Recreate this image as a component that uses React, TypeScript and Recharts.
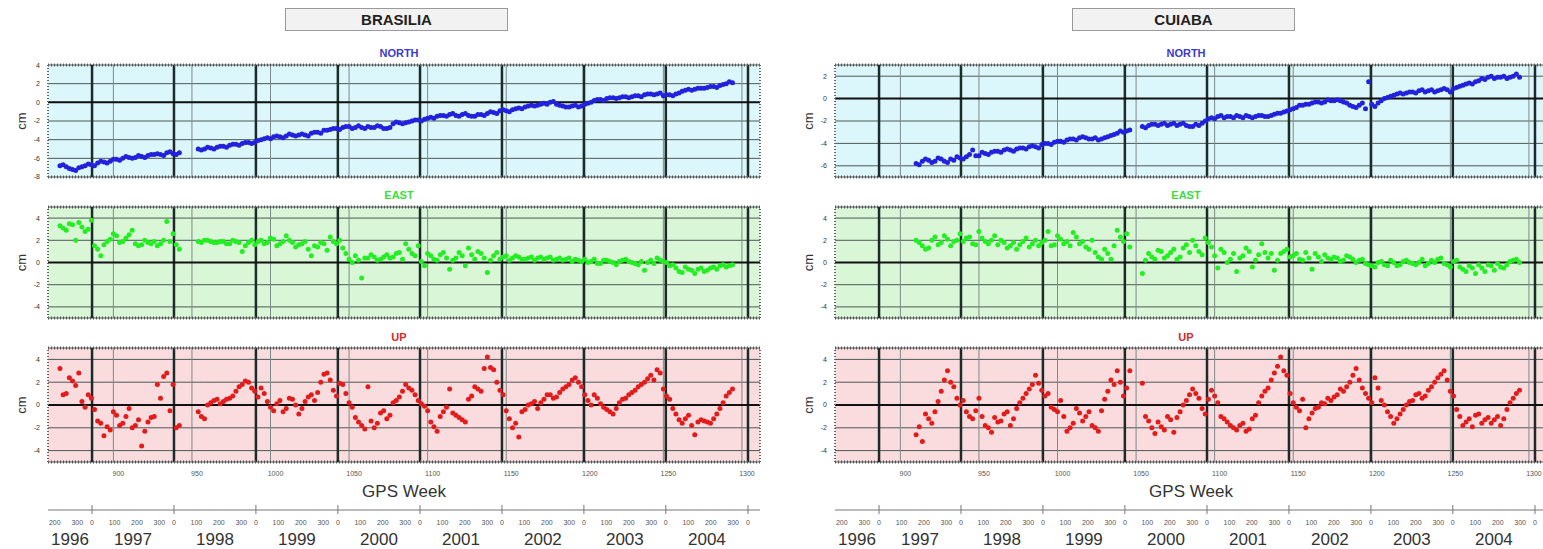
import React from 'react';
import { ScatterChart, Scatter, XAxis, YAxis, CartesianGrid, ReferenceLine } from 'recharts';

// GPS week range shown on every panel
const WEEK_DOMAIN: [number, number] = [858.4, 1311.5];
const gpsTicks = [900, 950, 1000, 1050, 1100, 1150, 1200, 1250, 1300];

// 1 January of each year, in GPS weeks
const yearStarts = [834.14, 886.43, 938.57, 990.71, 1042.86, 1095.14, 1147.29, 1199.43, 1251.57, 1303.86];
const yearNames = ['1996', '1997', '1998', '1999', '2000', '2001', '2002', '2003', '2004'];
const dayMarks = [100, 200, 300];

const northTicksBrasilia = [-8, -6, -4, -2, 0, 2, 4];
const northTicksCuiaba = [-6, -4, -2, 0, 2];
const enuTicks = [-4, -2, 0, 2, 4];

// ---- BRASILIA ----
const brasiliaWeeks = [
  866, 870, 874, 878, 882, 886, 890, 894, 898, 902, 906, 910, 914, 918, 922, 926, 930, 934, 938, 942,
  954, 958, 962, 966, 970, 974, 978, 982, 986, 990,
  994, 998, 1002, 1006, 1010, 1014, 1018, 1022, 1026, 1030,
  1034, 1038, 1042, 1046, 1050, 1054, 1058, 1062, 1066, 1070,
  1074, 1078, 1082, 1086, 1090, 1094, 1098, 1102, 1106, 1110,
  1114, 1118, 1122, 1126, 1130, 1134, 1138, 1142, 1146, 1150,
  1154, 1158, 1162, 1166, 1170, 1174, 1178, 1182, 1186, 1190,
  1194, 1198, 1202, 1206, 1210, 1214, 1218, 1222, 1226, 1230,
  1234, 1238, 1242, 1246, 1250, 1254, 1258, 1262, 1266, 1270,
  1274, 1278, 1282, 1286, 1290, 1294,
];
const brasiliaNorth = [
  -6.8, -6.9, -7.2, -7.0, -6.8, -6.7, -6.5, -6.4, -6.3, -6.1, -6.0, -5.9, -5.9, -5.8, -5.7, -5.6, -5.6, -5.4, -5.5, -5.4,
  -5.0, -5.0, -4.9, -4.8, -4.7, -4.6, -4.5, -4.4, -4.3, -4.3,
  -4.0, -3.8, -3.7, -3.7, -3.6, -3.5, -3.5, -3.5, -3.3, -3.2,
  -3.0, -2.9, -2.8, -2.7, -2.6, -2.7, -2.7, -2.6, -2.7, -2.6,
  -2.8, -2.3, -2.2, -2.2, -2.0, -1.9, -1.8, -1.6, -1.5, -1.4,
  -1.3, -1.4, -1.3, -1.4, -1.5, -1.3, -1.2, -1.1, -0.9, -0.9,
  -0.8, -0.6, -0.5, -0.3, -0.3, -0.1, 0.0, -0.2, -0.4, -0.5,
  -0.3, -0.4, -0.1, 0.2, 0.3, 0.4, 0.5, 0.5, 0.6, 0.6,
  0.7, 0.8, 0.9, 0.9, 0.7, 0.8, 0.9, 1.2, 1.4, 1.4,
  1.5, 1.6, 1.7, 1.8, 2.0, 2.1,
];
const brasiliaEast = [
  3.3, 2.9, 3.4, 3.6, 2.8, 3.8, 1.2, 1.6, 2.1, 2.4, 1.9, 2.5, 1.7, 1.6, 1.8, 1.9, 1.7, 3.7, 2.6, 1.2,
  1.9, 2.0, 1.9, 1.8, 1.9, 1.7, 1.9, 1.0, 1.8, 1.6,
  2.0, 1.8, 2.1, 1.7, 2.4, 1.8, 1.6, 1.9, 0.6, 1.4,
  1.7, 2.3, 1.7, 1.3, 0.3, 0.6, -1.4, 0.4, 0.5, 0.3,
  0.7, 0.5, 0.9, 1.7, 0.8, 1.5, -0.3, 0.6, 0.2, 0.9,
  -0.6, 0.4, 0.6, 1.3, 0.3, 0.8, -0.9, 0.6, 0.3, 0.6,
  0.4, 0.5, 0.3, 0.5, 0.4, 0.3, 0.5, 0.3, 0.2, 0.4,
  0.3, 0.1, 0.0, 0.3, -0.1, 0.2, 0.0, 0.1, 0.3, 0.0,
  -0.2, -0.7, 0.2, 0.4, 0.1, -0.3, -0.5, -0.9, -0.6, -1.0,
  -0.5, -0.7, -0.4, -0.3, -0.4, -0.2,
];
const brasiliaUp = [
  3.2, 1.0, 2.1, 2.8, -0.2, 0.6, -1.4, -2.7, -2.2, -0.9, -1.6, -0.3, -1.8, -3.6, -1.5, -1.0, 0.6, 2.8, 1.8, -1.8,
  -0.6, -1.2, 0.2, 0.5, 0.3, 0.6, 1.2, 1.8, 2.0, 1.2,
  1.5, 0.3, -0.5, 0.4, -0.3, 0.5, -0.8, 0.3, 0.9, 1.1,
  2.7, 2.2, 0.8, 1.8, 0.2, -1.1, -1.8, 1.6, -2.0, -0.7,
  -1.2, 0.2, 0.7, 1.8, 1.3, 0.4, -0.1, -1.5, -2.3, -0.6,
  1.4, -0.9, -1.3, 0.5, 1.6, 1.2, 4.2, 3.1, 1.3, -0.5,
  -2.0, -2.8, -0.4, 0.1, -0.3, 0.5, 0.9, 0.7, 1.4, 1.8,
  2.4, 1.6, 0.4, 0.9, 0.1, -0.4, -0.8, 0.2, 0.6, 1.1,
  1.6, 2.0, 2.6, 3.1, 1.4, 0.5, -0.8, -1.6, -0.9, -2.6,
  -1.3, -1.5, -1.2, -0.3, 0.8, 1.4,
];
// the weeks in between
const brasiliaWeeksB = [
  868, 872, 876, 880, 884, 888, 892, 896, 900, 904, 908, 912, 916, 920, 924, 928, 932, 936, 940,
  956, 960, 964, 968, 972, 976, 980, 984, 988, 992,
  996, 1000, 1004, 1008, 1012, 1016, 1020, 1024, 1028, 1032,
  1036, 1040, 1044, 1048, 1052, 1056, 1060, 1064, 1068, 1072,
  1076, 1080, 1084, 1088, 1092, 1096, 1100, 1104, 1108, 1112,
  1116, 1120, 1124, 1128, 1132, 1136, 1140, 1144, 1148, 1152,
  1156, 1160, 1164, 1168, 1172, 1176, 1180, 1184, 1188, 1192,
  1196, 1200, 1204, 1208, 1212, 1216, 1220, 1224, 1228, 1232,
  1236, 1240, 1244, 1248, 1252, 1256, 1260, 1264, 1268, 1272,
  1276, 1280, 1284, 1288, 1292,
];
const brasiliaNorthB = [
  -6.7, -7.1, -7.3, -6.9, -6.6, -6.8, -6.3, -6.5, -6.1, -6.2, -5.8, -6.0, -5.7, -5.9, -5.6, -5.5, -5.7, -5.3, -5.6,
  -5.1, -4.8, -5.0, -4.7, -4.8, -4.5, -4.6, -4.3, -4.4, -4.1,
  -3.9, -3.9, -3.6, -3.8, -3.4, -3.6, -3.4, -3.6, -3.2, -3.3,
  -3.0, -2.8, -2.9, -2.6, -2.8, -2.5, -2.8, -2.7, -2.5, -2.8,
  -2.7, -2.1, -2.3, -2.1, -1.9, -2.0, -1.7, -1.7, -1.4, -1.5,
  -1.2, -1.5, -1.2, -1.5, -1.3, -1.4, -1.0, -1.2, -0.8, -1.0,
  -0.7, -0.7, -0.4, -0.4, -0.2, -0.2, 0.1, -0.3, -0.5, -0.4,
  -0.5, -0.2, 0.0, 0.3, 0.2, 0.5, 0.4, 0.6, 0.5, 0.7,
  0.6, 0.9, 0.8, 1.0, 0.8, 0.7, 1.0, 1.3, 1.3, 1.5,
  1.5, 1.7, 1.6, 1.9, 2.2,
];
const brasiliaEastB = [
  3.1, 3.5, 2.0, 3.2, 3.0, 1.5, 0.6, 1.9, 2.6, 1.8, 2.2, 2.9, 1.5, 2.0, 1.7, 1.5, 2.0, 1.9, 1.6,
  1.8, 2.0, 1.8, 1.9, 1.7, 2.0, 1.8, 1.5, 2.0, 1.9,
  1.7, 2.2, 1.5, 1.9, 2.0, 1.4, 1.7, 1.2, 1.5, 1.8,
  1.1, 1.9, 2.0, 0.8, 0.0, 0.2, 0.4, 0.7, 0.2, 0.5,
  0.4, 0.8, 0.3, 1.2, 0.6, 0.1, 0.8, 0.3, 0.7, 0.4,
  0.2, 0.9, -0.3, 0.7, 1.0, 0.4, 0.2, 0.9, 0.5, 0.2,
  0.6, 0.3, 0.4, 0.2, 0.5, 0.4, 0.2, 0.4, 0.3, 0.1,
  0.2, 0.3, 0.1, -0.1, 0.2, 0.1, -0.2, 0.2, 0.1, -0.1,
  0.1, 0.0, -0.1, 0.2, 0.0, -0.2, -0.8, -0.4, -0.7, -0.6,
  -0.8, -0.5, -0.6, -0.2, -0.3,
];
const brasiliaUpB = [
  0.9, 2.4, 1.7, 0.3, 0.9, -0.4, -1.6, -1.9, -0.6, -1.8, -1.0, -2.0, -1.3, -2.3, -1.1, 1.8, 2.5, -0.5, -2.0,
  -1.0, 0.0, 0.4, 0.1, 0.5, 0.8, 1.6, 2.1, 1.5, 0.7,
  1.0, -0.2, 0.1, -0.6, 0.6, 0.0, -0.3, 0.7, 0.4, 2.0,
  2.8, 1.3, 1.9, 1.0, -0.2, -1.5, -2.1, -1.4, -1.6, -0.5,
  -0.9, 0.4, 1.2, 1.5, 0.9, 0.1, -0.5, -1.9, -1.0, -0.2,
  -0.7, -1.1, -1.5, 0.8, 1.4, 3.2, 3.3, 2.0, 0.9, -1.2,
  -1.6, -0.6, 0.0, 0.3, 0.2, 0.9, 0.6, 1.1, 1.6, 2.2,
  2.0, 0.9, 0.0, 0.6, -0.2, -0.6, -0.3, 0.5, 0.9, 1.3,
  1.8, 2.3, 2.2, 2.8, 0.8, -0.3, -1.3, -1.2, -1.8, -1.5,
  -1.4, -1.6, -0.8, 0.2, 1.1,
];

// ---- CUIABA ----
const cuiabaWeeks = [
  910, 914, 918, 922, 926, 930, 934, 938, 942, 946,
  950, 954, 958, 962, 966, 970, 974, 978, 982, 986,
  990, 994, 998, 1002, 1006, 1010, 1014, 1018, 1022, 1026,
  1030, 1034, 1038, 1042, 1046,
  1054, 1058, 1062, 1066, 1070, 1074, 1078, 1082, 1086, 1090,
  1094, 1098, 1102, 1106, 1110, 1114, 1118, 1122, 1126, 1130,
  1134, 1138, 1142, 1146, 1150, 1154, 1158, 1162, 1166, 1170,
  1174, 1178, 1182, 1186, 1190, 1194, 1198, 1202, 1206, 1210,
  1214, 1218, 1222, 1226, 1230, 1234, 1238, 1242, 1246, 1250,
  1254, 1258, 1262, 1266, 1270, 1274, 1278, 1282, 1286, 1290,
  1294,
];
const cuiabaNorth = [
  -5.8, -5.6, -5.5, -5.6, -5.4, -5.7, -5.5, -5.3, -5.2, -4.6,
  -5.1, -4.9, -4.8, -4.7, -4.6, -4.6, -4.5, -4.4, -4.3, -4.3,
  -4.1, -4.0, -3.9, -3.8, -3.7, -3.6, -3.5, -3.5, -3.6, -3.7,
  -3.5, -3.3, -3.1, -3.0, -2.8,
  -2.5, -2.4, -2.3, -2.3, -2.4, -2.2, -2.3, -2.4, -2.5, -2.4,
  -2.0, -1.7, -1.6, -1.7, -1.6, -1.5, -1.7, -1.6, -1.6, -1.5,
  -1.6, -1.4, -1.3, -1.1, -0.9, -0.6, -0.5, -0.4, -0.3, -0.3,
  -0.2, -0.1, -0.3, -0.6, -0.8, -0.4, 1.5, -0.7, -0.2, 0.1,
  0.3, 0.5, 0.5, 0.6, 0.7, 0.6, 0.8, 0.7, 0.9, 0.6,
  1.0, 1.2, 1.4, 1.5, 1.8, 1.9, 1.8, 1.9, 1.8, 2.0,
  1.9,
];
const cuiabaEast = [
  2.0, 1.5, 1.3, 2.3, 1.8, 2.1, 1.9, 2.6, 2.2, 1.7,
  2.8, 1.9, 2.0, 1.6, 1.8, 1.5, 1.2, 1.9, 1.4, 2.0,
  1.8, 2.8, 1.6, 2.1, 1.9, 2.7, 1.7, 1.4, 2.0, 0.5,
  1.2, 0.3, 2.9, 1.9, 1.4,
  -1.0, 0.8, 0.3, 1.0, 0.6, 1.2, 0.5, 1.6, 2.0, 1.0,
  2.2, 1.4, -0.5, 0.9, 0.3, -0.8, 0.6, 1.0, 0.2, 1.7,
  0.4, -0.7, 0.8, 1.2, 0.6, 0.3, 0.9, -0.6, 0.5, 0.7,
  0.3, 0.4, 0.2, 0.5, 0.0, 0.3, -0.2, -0.4, 0.1, -0.3,
  0.0, -0.2, 0.2, -0.1, 0.0, -0.3, 0.2, 0.3, -0.1, -0.4,
  0.2, -0.6, -0.3, -1.0, -0.5, -0.2, -0.7, -0.4, -0.2, 0.2,
  0.0,
];
const cuiabaUp = [
  -2.6, -3.2, -1.2, -0.6, 1.2, 3.0, 1.6, 0.0, -0.6, -1.2,
  0.6, -1.8, -2.4, -1.5, -0.8, -1.8, -0.3, 0.6, 1.4, 2.6,
  1.3, 1.0, -0.4, 0.4, -2.3, -1.6, -0.7, -1.0, -1.8, -2.3,
  0.5, 2.2, 3.0, 0.8, 3.0,
  1.9, -1.4, -2.5, -1.9, -1.0, -2.4, -0.6, 0.4, 1.4, 0.6,
  -0.8, 1.3, 0.2, -1.2, -1.8, -2.2, -1.6, -2.1, -0.9, 0.8,
  1.5, 2.8, 4.2, 2.6, 0.2, -0.5, -2.0, -0.7, -0.2, 0.1,
  0.4, 0.9, 1.2, 2.0, 3.2, 1.5, 0.6, 2.4, 0.4, -0.6,
  -1.6, -0.8, 0.0, 0.4, 1.0, 0.8, 1.6, 2.4, 3.0, 1.2,
  -0.4, -1.8, -1.2, -0.9, -1.6, -1.1, -1.3, -1.8, -0.4, 0.6,
  1.3,
];
const cuiabaWeeksB = [
  912, 916, 920, 924, 928, 932, 936, 940, 944, 948,
  952, 956, 960, 964, 968, 972, 976, 980, 984, 988,
  992, 996, 1000, 1004, 1008, 1012, 1016, 1020, 1024, 1028,
  1032, 1036, 1040, 1044,
  1056, 1060, 1064, 1068, 1072, 1076, 1080, 1084, 1088, 1092,
  1096, 1100, 1104, 1108, 1112, 1116, 1120, 1124, 1128, 1132,
  1136, 1140, 1144, 1148, 1152, 1156, 1160, 1164, 1168, 1172,
  1176, 1180, 1184, 1188, 1192, 1196, 1200, 1204, 1208, 1212,
  1216, 1220, 1224, 1228, 1232, 1236, 1240, 1244, 1248, 1252,
  1256, 1260, 1264, 1268, 1272, 1276, 1280, 1284, 1288, 1292,
];
const cuiabaNorthB = [
  -5.9, -5.4, -5.7, -5.3, -5.6, -5.4, -5.2, -5.4, -5.0, -5.1,
  -4.8, -5.0, -4.7, -4.8, -4.5, -4.7, -4.4, -4.5, -4.2, -4.4,
  -4.0, -4.1, -3.8, -3.9, -3.6, -3.7, -3.4, -3.6, -3.5, -3.6,
  -3.4, -3.2, -2.9, -2.9,
  -2.6, -2.3, -2.4, -2.2, -2.3, -2.4, -2.2, -2.5, -2.3, -2.2,
  -1.8, -1.8, -1.5, -1.6, -1.7, -1.6, -1.5, -1.7, -1.5, -1.6,
  -1.5, -1.3, -1.2, -1.0, -0.8, -0.6, -0.5, -0.3, -0.4, -0.1,
  -0.2, -0.2, -0.4, -0.7, -0.6, -0.9, -0.5, -0.4, 0.0, 0.2,
  0.4, 0.4, 0.6, 0.5, 0.8, 0.7, 0.6, 0.8, 0.8, 0.9,
  1.1, 1.3, 1.3, 1.6, 1.7, 2.0, 1.9, 2.0, 1.9, 2.2,
];
const cuiabaEastB = [
  1.8, 1.2, 2.0, 1.6, 2.4, 1.5, 2.0, 1.9, 2.3, 1.6,
  2.2, 1.7, 2.4, 2.0, 1.3, 1.8, 1.6, 2.2, 1.7, 1.5,
  2.0, 1.5, 2.4, 1.7, 1.5, 2.3, 1.9, 1.2, 0.9, 0.3,
  0.8, 1.5, 2.3, 2.6,
  0.2, 0.5, 1.1, 0.4, 0.9, 0.3, 1.3, 0.9, 1.5, 0.7,
  1.8, 0.6, 1.2, 0.0, 0.8, 0.4, 1.3, -0.4, 0.7, 0.9,
  0.8, 0.2, 1.0, 0.5, 0.8, 0.2, 0.4, 0.8, 0.1, 0.4,
  0.5, 0.1, 0.6, 0.3, 0.2, -0.1, -0.3, 0.0, -0.2, 0.2,
  -0.3, 0.1, 0.0, -0.2, 0.3, -0.1, 0.0, 0.4, -0.2, 0.1,
  -0.4, -0.8, -0.5, -0.2, -0.8, -0.3, -0.1, -0.5, 0.1, 0.3,
];
const cuiabaUpB = [
  -1.9, -0.8, -1.6, 0.3, 2.2, 2.0, 0.6, 0.4, -1.0, -0.5,
  -1.0, -2.0, -1.1, -1.4, -0.6, -1.2, 0.2, 1.0, 1.8, 1.9,
  0.8, -0.2, -0.6, -1.0, -2.0, -0.3, -1.4, -0.6, -2.0, -0.5,
  1.2, 1.8, 2.0, 1.5,
  -1.0, -2.0, -1.5, -2.2, -1.3, -1.1, 0.0, 0.9, 1.0, -0.3,
  0.5, 0.8, -1.0, -1.5, -2.0, -1.8, -2.3, -1.2, 0.2, 1.2,
  2.2, 3.4, 3.0, 1.0, -0.2, 0.5, -1.2, -0.3, 0.2, 0.6,
  0.7, 1.4, 1.6, 2.6, 2.2, 1.0, 0.2, 1.5, 0.0, -1.0,
  -1.2, -0.4, 0.3, 0.9, 0.6, 1.3, 2.0, 2.7, 2.2, 0.8,
  -1.0, -1.5, -1.9, -0.8, -1.3, -1.6, -1.0, -1.2, 0.2, 1.0,
];

type Pt = { w: number; v: number };
const toPts = (weekSets: number[][], valSets: number[][]): Pt[] =>
  weekSets.flatMap((weeks, k) => weeks.map((w, i) => ({ w, v: valSets[k][i] })));

// ticks of the calendar axis under the GPS week axis
type YearTickInfo = { v: number; day?: string; year?: string; edge?: boolean };
const yearTicks: YearTickInfo[] = [];
yearNames.forEach((name, i) => {
  const s = yearStarts[i];
  const e = yearStarts[i + 1];
  const [lo, hi] = WEEK_DOMAIN;
  dayMarks.forEach((d) => {
    const v = s + d / 7;
    if (v > lo && v < hi) yearTicks.push({ v, day: String(d) });
  });
  if (e < hi) yearTicks.push({ v: e, day: '0', edge: true });
  yearTicks.push({ v: (Math.max(s, lo) + Math.min(e, hi)) / 2, year: name });
});
const findYearTick = (v: number) => yearTicks.find((t) => Math.abs(t.v - v) < 0.01);

const renderGpsTick = (p: any) => (
  <text key={'gt' + p.index} x={p.x + 5} y={p.y + 14} textAnchor="middle" fontSize={7} fill="#555">
    {p.payload.value}
  </text>
);

const renderYearTick = (p: any) => {
  const t = findYearTick(Number(p.payload.value));
  if (!t) return <g key={'yt' + p.index} />;
  return (
    <g key={'yt' + p.index}>
      {t.edge && <line x1={p.x} x2={p.x} y1={p.y - 5} y2={p.y + 4} stroke="#777" />}
      {t.day && (
        <text x={p.x} y={p.y + 15} textAnchor="middle" fontSize={7} fill="#555">{t.day}</text>
      )}
      {t.year && (
        <text x={p.x} y={p.y + 35} textAnchor="middle" fontSize={17} fill="#333">{t.year}</text>
      )}
    </g>
  );
};

const PLOT_W = 712;
const Y_W = 48;

function Panel(props: {
  data: Pt[];
  color: string;
  bg: string;
  domain: [number, number];
  ticks: number[];
  top: number;
  plotH: number;
  withAxes?: boolean;
}) {
  const { data, color, bg, domain, ticks, top, plotH, withAxes } = props;
  const height = withAxes ? 3 + plotH + 48 + 39 : plotH + 6;
  const dot = (s: any) => <circle cx={s.cx} cy={s.cy} r={2.5} fill={color} />;
  return (
    <div style={{ position: 'absolute', left: 0, top: top - 3 }}>
      <ScatterChart
        width={Y_W + PLOT_W + 4}
        height={height}
        margin={{ top: 3, right: 4, bottom: withAxes ? 0 : 3, left: 0 }}
      >
        <CartesianGrid vertical={false} stroke="#4d5858" fill={bg} fillOpacity={1} />
        <XAxis
          xAxisId="gps"
          type="number"
          dataKey="w"
          domain={WEEK_DOMAIN}
          ticks={gpsTicks}
          interval={0}
          allowDataOverflow
          hide={!withAxes}
          height={48}
          tickLine={false}
          axisLine={false}
          tickSize={0}
          tickMargin={0}
          tick={renderGpsTick}
          label={{ value: 'GPS Week', position: 'insideBottom', offset: 13, fontSize: 17, fill: '#333' }}
        />
        {withAxes && (
          <XAxis
            xAxisId="yr"
            type="number"
            dataKey="w"
            domain={WEEK_DOMAIN}
            ticks={yearTicks.map((t) => t.v)}
            interval={0}
            allowDataOverflow
            height={39}
            tickLine={false}
            tickSize={0}
            tickMargin={0}
            stroke="#777"
            tick={renderYearTick}
          />
        )}
        <YAxis
          type="number"
          dataKey="v"
          domain={domain}
          ticks={ticks}
          interval={0}
          allowDataOverflow
          width={Y_W}
          tickLine={false}
          axisLine={false}
          tick={{ fontSize: 7, fill: '#333' }}
          label={{ value: 'cm', angle: -90, position: 'center', fontSize: 13, fill: '#333', dx: -3 }}
        />
        {gpsTicks.map((w) => (
          <ReferenceLine key={'g' + w} xAxisId="gps" x={w} stroke="#7d8a8a" strokeWidth={1} />
        ))}
        {yearStarts
          .filter((w) => w > WEEK_DOMAIN[0] && w < WEEK_DOMAIN[1])
          .map((w) => (
            <ReferenceLine key={'y' + w} xAxisId="gps" x={w} stroke="#1d2a2a" strokeWidth={2.5} />
          ))}
        <ReferenceLine xAxisId="gps" y={0} stroke="#111" strokeWidth={2} />
        {domain.map((y) => (
          <ReferenceLine key={'hb' + y} xAxisId="gps" y={y} stroke="#555" strokeWidth={3} strokeDasharray="1 2" />
        ))}
        {WEEK_DOMAIN.map((x) => (
          <ReferenceLine key={'vb' + x} xAxisId="gps" x={x} stroke="#666" strokeWidth={2} strokeDasharray="1 2" />
        ))}
        <Scatter xAxisId="gps" data={data} fill={color} isAnimationActive={false} shape={dot} />
      </ScatterChart>
    </div>
  );
}

const titleStyle = (top: number, color: string): React.CSSProperties => ({
  position: 'absolute',
  left: 339,
  top,
  width: 120,
  height: 14,
  lineHeight: '14px',
  textAlign: 'center',
  fontSize: 11,
  fontWeight: 'bold',
  color,
});

function Station(props: {
  name: string;
  left: number;
  weeks: number[][];
  north: number[][];
  east: number[][];
  up: number[][];
  northDomain: [number, number];
  northTicks: number[];
}) {
  const { name, left, weeks, north, east, up, northDomain, northTicks } = props;
  return (
    <div style={{ position: 'absolute', left, top: 0, width: 764, height: 549 }}>
      <div
        style={{
          position: 'absolute',
          left: 285,
          top: 8,
          width: 221,
          height: 21,
          lineHeight: '21px',
          border: '1px solid #9a9a9a',
          background: '#f2f2f2',
          textAlign: 'center',
          fontWeight: 'bold',
          fontSize: 15,
          color: '#222',
        }}
      >
        {name}
      </div>
      <div style={titleStyle(46, '#3a3acc')}>NORTH</div>
      <div style={titleStyle(188, '#3ddc3d')}>EAST</div>
      <div style={titleStyle(330, '#d42a2a')}>UP</div>
      <Panel data={toPts(weeks, north)} color="#2222dd" bg="#dcf7fb" domain={northDomain} ticks={northTicks} top={65} plotH={112} />
      <Panel data={toPts(weeks, east)} color="#22ee22" bg="#d9f7d6" domain={[-5, 5]} ticks={enuTicks} top={207} plotH={111} />
      <Panel data={toPts(weeks, up)} color="#e41b1b" bg="#fbdcde" domain={[-5, 5]} ticks={enuTicks} top={348} plotH={114} withAxes />
    </div>
  );
}

export default function App() {
  return (
    <div
      style={{
        position: 'absolute',
        left: 0,
        top: 0,
        width: 1543,
        height: 549,
        overflow: 'hidden',
        background: '#fff',
        fontFamily: '"Liberation Sans", Arial, sans-serif',
      }}
    >
      <Station
        name="BRASILIA"
        left={0}
        weeks={[brasiliaWeeks, brasiliaWeeksB]}
        north={[brasiliaNorth, brasiliaNorthB]}
        east={[brasiliaEast, brasiliaEastB]}
        up={[brasiliaUp, brasiliaUpB]}
        northDomain={[-8, 4]}
        northTicks={northTicksBrasilia}
      />
      <Station
        name="CUIABA"
        left={787}
        weeks={[cuiabaWeeks, cuiabaWeeksB]}
        north={[cuiabaNorth, cuiabaNorthB]}
        east={[cuiabaEast, cuiabaEastB]}
        up={[cuiabaUp, cuiabaUpB]}
        northDomain={[-7, 3]}
        northTicks={northTicksCuiaba}
      />
    </div>
  );
}
